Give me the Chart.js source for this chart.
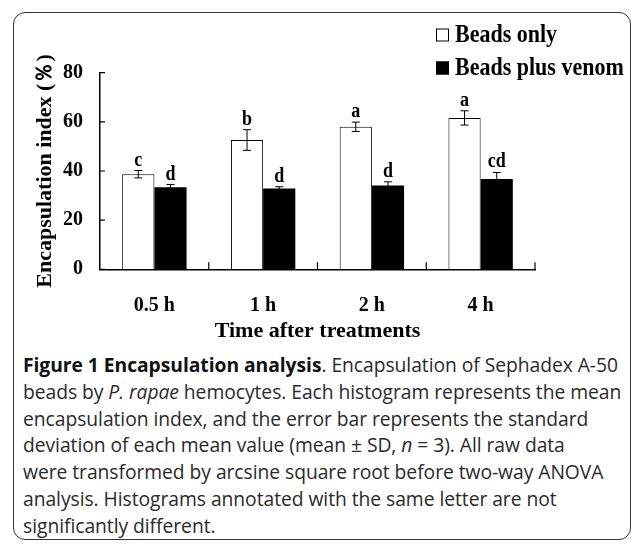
<!DOCTYPE html>
<html>
<head>
<meta charset="utf-8">
<script src="https://cdn.jsdelivr.net/npm/chart.js@4.4.1/dist/chart.umd.min.js"></script>
<style>
  html, body { margin: 0; padding: 0; background: #fff; }
  body { width: 633px; height: 544px; position: relative; overflow: hidden; }
  .frame {
    position: absolute; left: 13px; top: 12px; width: 616px; height: 526px;
    border: 1.5px solid #333; border-radius: 12px;
  }
  #wrap { position: absolute; left: 0; top: 0; width: 633px; height: 345px; }
  .caption {
    position: absolute; left: 23px; top: 352px;
    font-family: "Open Sans", sans-serif; font-size: 19.3px; line-height: 26.8px;
    color: #2a2a2a; white-space: nowrap; letter-spacing: -0.05px;
  }
  .caption b { color: #111; }
</style>
</head>
<body>
<div class="frame"></div>
<div id="wrap"><canvas id="chart" width="633" height="345"></canvas></div>
<div class="caption">
  <div><b>Figure 1 Encapsulation analysis</b>. Encapsulation of Sephadex A-50</div>
  <div>beads by <i>P. rapae</i> hemocytes. Each histogram represents the mean</div>
  <div>encapsulation index, and the error bar represents the standard</div>
  <div>deviation of each mean value (mean ± SD, <i>n</i> = 3). All raw data</div>
  <div>were transformed by arcsine square root before two-way ANOVA</div>
  <div>analysis. Histograms annotated with the same letter are not</div>
  <div>significantly different.</div>
</div>
<script>
const categories = ["0.5 h", "1 h", "2 h", "4 h"];
const beadsOnly = [38.7, 52.6, 58.0, 61.6];
const beadsOnlySd = [1.5, 4.2, 1.9, 2.9];
const beadsOnlyLetters = ["c", "b", "a", "a"];
const beadsVenom = [33.4, 32.9, 34.1, 36.7];
const beadsVenomSd = [1.1, 0.7, 1.5, 2.7];
const beadsVenomLetters = ["d", "d", "d", "cd"];
const yTicks = [0, 20, 40, 60, 80];

const serif = "'Liberation Serif', 'Times New Roman', serif";

// error bars, letters, inward tick marks and the legend
const extras = {
    id: "extras",
    afterDatasetsDraw(chart) {
        const ctx = chart.ctx;
        const x = chart.scales.x;
        const y = chart.scales.y;
        const sds = [beadsOnlySd, beadsVenomSd];
        const letters = [beadsOnlyLetters, beadsVenomLetters];

        ctx.save();
        ctx.strokeStyle = "#000";
        ctx.lineWidth = 1;
        chart.data.datasets.forEach((ds, di) => {
            chart.getDatasetMeta(di).data.forEach((bar, i) => {
                const v = ds.data[i];
                const top = y.getPixelForValue(v + sds[di][i]);
                const bot = y.getPixelForValue(v - sds[di][i]);
                ctx.beginPath();
                ctx.moveTo(bar.x, top); ctx.lineTo(bar.x, bot);
                ctx.moveTo(bar.x - 4, top); ctx.lineTo(bar.x + 4, top);
                ctx.moveTo(bar.x - 4, bot); ctx.lineTo(bar.x + 4, bot);
                ctx.stroke();

                // letters are a bit taller than wide in the source
                ctx.save();
                ctx.translate(bar.x, top - 5);
                ctx.scale(1, 1.12);
                ctx.fillStyle = "#000";
                ctx.font = "bold 18px " + serif;
                ctx.textAlign = "center";
                ctx.textBaseline = "alphabetic";
                ctx.fillText(letters[di][i], 0, 0);
                ctx.restore();
            });
        });

        // inward ticks
        ctx.lineWidth = 1.2;
        ctx.beginPath();
        yTicks.forEach(t => {
            const py = y.getPixelForValue(t);
            ctx.moveTo(x.left, py); ctx.lineTo(x.left + 5, py);
        });
        const half = (x.getPixelForValue(1) - x.getPixelForValue(0)) / 2;
        categories.forEach((c, i) => {
            const px = x.getPixelForValue(i) + half;
            ctx.moveTo(px, y.bottom); ctx.lineTo(px, y.bottom - 7);
        });
        ctx.stroke();

        // legend
        chart.data.datasets.forEach((ds, di) => {
            const ly = 35 + di * 33;
            ctx.fillStyle = ds.backgroundColor;
            ctx.fillRect(436, ly - 6.5, 13, 13);
            ctx.strokeStyle = "#000";
            ctx.lineWidth = 1;
            ctx.strokeRect(436.5, ly - 6, 12, 12);
            ctx.save();
            ctx.translate(455, ly + 1);
            ctx.scale(1, 1.1);
            ctx.font = "bold 22px " + serif;
            ctx.textAlign = "left";
            ctx.textBaseline = "middle";
            ctx.fillStyle = "#000";
            ctx.fillText(ds.label, 0, 0);
            ctx.restore();
        });
        ctx.restore();
    }
};

new Chart(document.getElementById("chart"), {
    type: "bar",
    data: {
        labels: categories,
        datasets: [
            {
                label: "Beads only",
                data: beadsOnly,
                backgroundColor: "#ffffff",
                borderColor: "#000",
                borderWidth: 1
            },
            {
                label: "Beads plus venom",
                data: beadsVenom,
                backgroundColor: "#000000",
                borderColor: "#000",
                borderWidth: 0
            }
        ]
    },
    options: {
        responsive: false,
        animation: false,
        layout: { padding: { left: 0, right: 98, top: 72.7, bottom: 0 } },
        plugins: { legend: { display: false }, tooltip: { enabled: false } },
        datasets: { bar: { categoryPercentage: 0.592, barPercentage: 1 } },
        scales: {
            x: {
                grid: { display: false, drawTicks: false },
                border: { display: true, color: "#000", width: 1.5 },
                ticks: { color: "#000", padding: 25, font: { family: serif, weight: "bold", size: 20 } },
                title: {
                    display: true, text: "Time after treatments", color: "#000",
                    font: { family: serif, weight: "bold", size: 22 }, padding: { top: 0, bottom: 0 }
                },
                afterFit(scale) { scale.height = 345 - 269.3; }
            },
            y: {
                min: 0, max: 80,
                grid: { display: false, drawTicks: false },
                border: { display: true, color: "#000", width: 1.5 },
                ticks: {
                    stepSize: 20, color: "#000", padding: 17,
                    font: { family: serif, weight: "bold", size: 20 }
                },
                title: {
                    display: true, text: "Encapsulation index (％)", color: "#000",
                    font: { family: serif, weight: "bold", size: 22 }, padding: { top: 32, bottom: 0 }
                },
                afterFit(scale) { scale.width = 100; }
            }
        }
    },
    plugins: [extras]
});
</script>
</body>
</html>
